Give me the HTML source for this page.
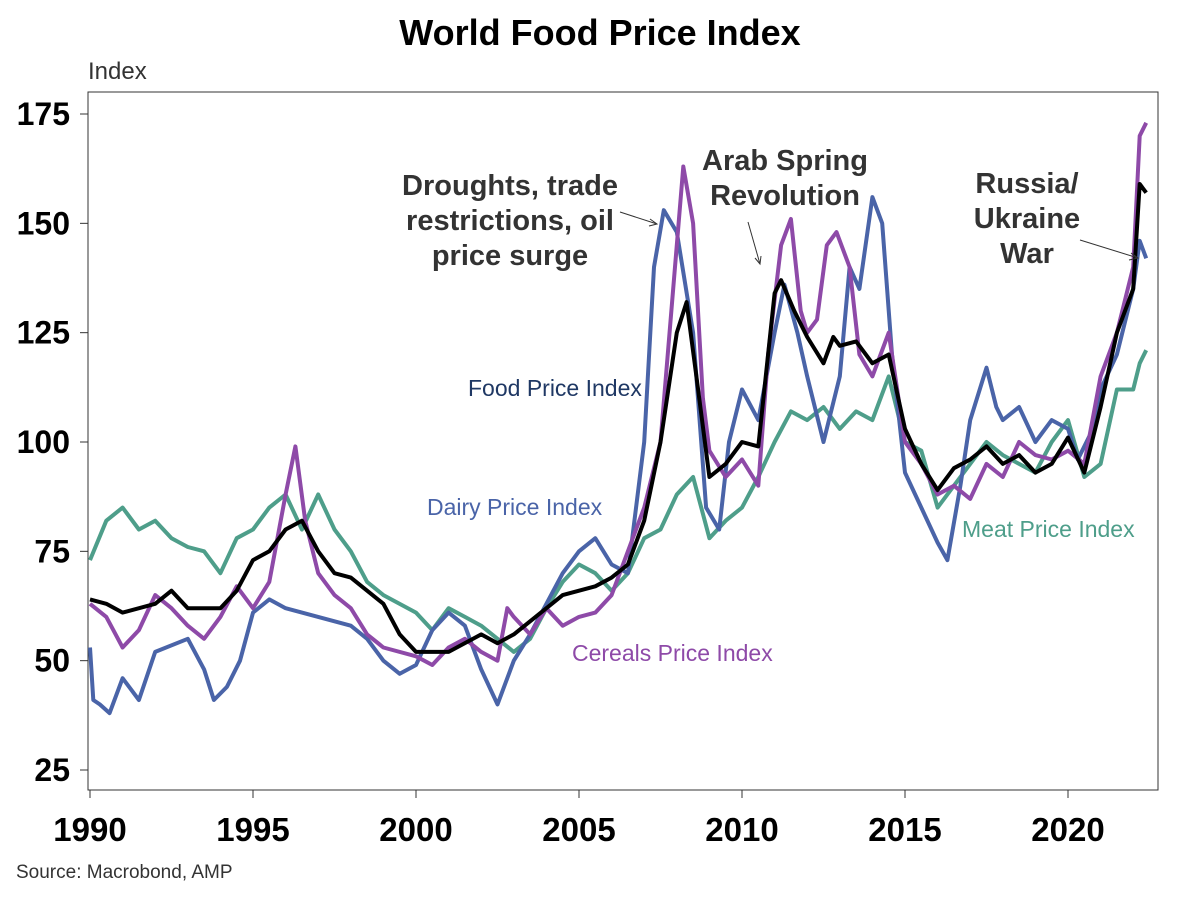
<!DOCTYPE html>
<html><head><meta charset="utf-8"><style>
body{margin:0;background:#fff;width:1200px;height:901px;overflow:hidden;font-family:"Liberation Sans",Arial,sans-serif}
</style></head><body>
<svg width="1200" height="901" id="svg" xmlns="http://www.w3.org/2000/svg" font-family="Liberation Sans, Arial, sans-serif">
<text x="600" y="45" text-anchor="middle" font-size="36" font-weight="bold">World Food Price Index</text>
<text x="88" y="79" font-size="24" fill="#333">Index</text>
<rect x="88" y="92" width="1070" height="698" fill="none" stroke="#333" stroke-width="1"/>
<g id="ticks"></g>
<g id="series"></g>
<text x="510" y="195" text-anchor="middle" font-size="29" font-weight="bold" fill="#333"><tspan x="510">Droughts, trade</tspan><tspan x="510" dy="35">restrictions, oil</tspan><tspan x="510" dy="35">price surge</tspan></text>
<text x="785" y="170" text-anchor="middle" font-size="29" font-weight="bold" fill="#333"><tspan x="785">Arab Spring</tspan><tspan x="785" dy="35">Revolution</tspan></text>
<text x="1027" y="193" text-anchor="middle" font-size="29" font-weight="bold" fill="#333"><tspan x="1027">Russia/</tspan><tspan x="1027" dy="35">Ukraine</tspan><tspan x="1027" dy="35">War</tspan></text>
<g stroke="#333" stroke-width="1" fill="none">
<line x1="620" y1="212" x2="657" y2="224"/><path d="M650 219 L657 224 L649 226"/>
<line x1="748" y1="222" x2="760" y2="264"/><path d="M755 258 L760 264 L761 256"/>
<line x1="1080" y1="240" x2="1138" y2="258"/><path d="M1131 253 L1138 258 L1129 260"/>
</g>
<text x="468" y="396" font-size="23" fill="#1f3864">Food Price Index</text>
<text x="427" y="515" font-size="23" fill="#4a64a8">Dairy Price Index</text>
<text x="572" y="661" font-size="23" fill="#8e4aa8">Cereals Price Index</text>
<text x="962" y="537" font-size="23" fill="#4e9e8a">Meat Price Index</text>
<text x="16" y="878" font-size="19" fill="#333">Source: Macrobond, AMP</text>
</svg>
<script>
const yTicks=[25,50,75,100,125,150,175];
const xTicks=[1990,1995,2000,2005,2010,2015,2020];
const foodDates=[1990,1990.5,1991,1992,1992.5,1993,1994,1994.5,1995,1995.5,1996,1996.5,1997,1997.5,1998,1999,1999.5,2000,2001,2002,2002.5,2003,2004,2004.5,2005,2005.5,2006,2006.5,2007,2007.5,2008,2008.3,2008.6,2009,2009.5,2010,2010.5,2011,2011.2,2011.6,2012,2012.5,2012.8,2013,2013.5,2014,2014.5,2015,2015.5,2016,2016.5,2017,2017.5,2018,2018.5,2019,2019.5,2020,2020.5,2021,2021.5,2022,2022.2,2022.4];
const foodValues=[64,63,61,63,66,62,62,66,73,75,80,82,75,70,69,63,56,52,52,56,54,56,62,65,66,67,69,72,82,100,125,132,115,92,95,100,99,134,137,130,124,118,124,122,123,118,120,103,95,89,94,96,99,95,97,93,95,101,93,108,125,135,159,157];
const dairyDates=[1990,1990.1,1990.3,1990.6,1991,1991.5,1992,1993,1993.5,1993.8,1994.2,1994.6,1995,1995.5,1996,1997,1998,1998.5,1999,1999.5,2000,2000.5,2001,2001.5,2002,2002.5,2003,2003.5,2004,2004.5,2005,2005.5,2006,2006.5,2007,2007.3,2007.6,2008,2008.5,2008.9,2009.3,2009.6,2010,2010.5,2011,2011.3,2011.7,2012,2012.5,2013,2013.3,2013.6,2014,2014.3,2014.6,2015,2015.5,2016,2016.3,2016.7,2017,2017.5,2017.8,2018,2018.5,2019,2019.5,2020,2020.3,2020.7,2021,2021.5,2022,2022.2,2022.4];
const dairyValues=[53,41,40,38,46,41,52,55,48,41,44,50,61,64,62,60,58,55,50,47,49,57,61,58,48,40,50,56,63,70,75,78,72,70,100,140,153,148,125,85,80,100,112,105,125,136,125,115,100,115,140,135,156,150,120,93,85,77,73,90,105,117,108,105,108,100,105,103,96,102,112,120,135,146,142];
const cerealDates=[1990,1990.5,1991,1991.5,1992,1992.5,1993,1993.5,1994,1994.5,1995,1995.5,1996,1996.3,1996.6,1997,1997.5,1998,1998.5,1999,2000,2000.5,2001,2001.5,2002,2002.5,2002.8,2003,2003.5,2004,2004.5,2005,2005.5,2006,2006.5,2007,2007.5,2008,2008.2,2008.5,2008.8,2009,2009.5,2010,2010.5,2010.8,2011.2,2011.5,2011.8,2012,2012.3,2012.6,2012.9,2013.3,2013.6,2014,2014.5,2015,2015.5,2016,2016.5,2017,2017.5,2018,2018.5,2019,2019.5,2020,2020.5,2021,2021.5,2022,2022.2,2022.4];
const cerealValues=[63,60,53,57,65,62,58,55,60,67,62,68,88,99,82,70,65,62,56,53,51,49,53,55,52,50,62,60,56,62,58,60,61,65,75,85,100,145,163,150,110,98,92,96,90,120,145,151,130,125,128,145,148,140,120,115,125,100,95,88,90,87,95,92,100,97,96,98,95,115,125,140,170,173];
const meatDates=[1990,1990.5,1991,1991.5,1992,1992.5,1993,1993.5,1994,1994.5,1995,1995.5,1996,1996.5,1997,1997.5,1998,1998.5,1999,2000,2000.5,2001,2001.5,2002,2002.5,2003,2003.5,2004,2004.5,2005,2005.5,2006,2006.5,2007,2007.5,2008,2008.5,2009,2009.5,2010,2010.5,2011,2011.5,2012,2012.5,2013,2013.5,2014,2014.5,2015,2015.5,2016,2016.5,2017,2017.5,2018,2018.5,2019,2019.5,2020,2020.5,2021,2021.5,2022,2022.2,2022.4];
const meatValues=[73,82,85,80,82,78,76,75,70,78,80,85,88,80,88,80,75,68,65,61,57,62,60,58,55,52,55,62,68,72,70,66,70,78,80,88,92,78,82,85,92,100,107,105,108,103,107,105,115,100,98,85,90,95,100,97,95,93,100,105,92,95,112,112,118,121];

const NS="http://www.w3.org/2000/svg";
const xs=t=>90+(t-1990)*32.6;
const ys=v=>770-(v-25)*4.3733;
const tg=document.getElementById('ticks');
function mk(tag,attrs,parent){const e=document.createElementNS(NS,tag);for(const k in attrs)e.setAttribute(k,attrs[k]);parent.appendChild(e);return e;}
yTicks.forEach(v=>{
  const l=mk('line',{x1:80,x2:88,y1:ys(v),y2:ys(v),stroke:'#333'},tg);
  
  
  const t=mk('text',{x:70,y:ys(v)+11,'text-anchor':'end','font-size':32,'font-weight':'bold'},tg);
  
  
  t.textContent=v;
});
xTicks.forEach(v=>{
  const l=mk('line',{x1:xs(v),x2:xs(v),y1:790,y2:798,stroke:'#333'},tg);
  
  
  const t=mk('text',{x:xs(v),y:841,'text-anchor':'middle','font-size':33,'font-weight':'bold'},tg);
  
  
  t.textContent=v;
});
const sg=document.getElementById('series');
function line(d,v,color,name){
  const p=mk('path',{d:d.map((t,i)=>(i?'L':'M')+xs(t).toFixed(1)+' '+ys(v[i]).toFixed(1)).join(' '),fill:'none',stroke:color,'stroke-width':4,'stroke-linejoin':'round'},sg);
  
  
}
line(meatDates,meatValues,'#4e9e8a','meat-line');
line(dairyDates,dairyValues,'#4a64a8','dairy-line');
line(cerealDates,cerealValues,'#8e4aa8','cereals-line');
line(foodDates,foodValues,'#000','food-line');
</script>
</body></html>
